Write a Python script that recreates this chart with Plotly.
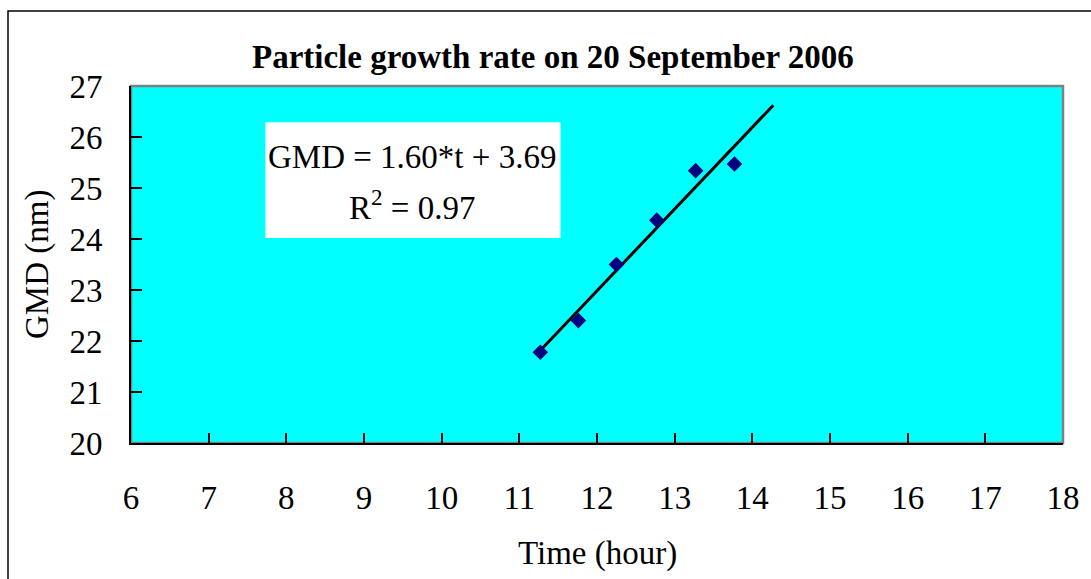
import numpy as np
import plotly.graph_objects as go

# Data
time_hour = [11.27, 11.76, 12.25, 12.77, 13.27, 13.77]
gmd_nm = [21.78, 22.40, 23.50, 24.37, 25.34, 25.47]
trend_end = 14.27
x_ticks = list(range(6, 19))
y_ticks = list(range(20, 28))
title_text = "Particle growth rate on 20 September 2006"
eq_line1 = "GMD = 1.60*t + 3.69"
eq_line2 = "R<sup>2</sup> = 0.97"

slope, intercept = np.polyfit(time_hour, gmd_nm, 1)
trend_x = [time_hour[0], trend_end]
trend_y = [slope * v + intercept for v in trend_x]

W, H = 1091, 579
L, R, T, B = 131, 28, 86, 136
pw, ph = W - L - R, H - T - B

def px(xp):
    return (xp - L) / pw

def py(yp):
    return (H - B - yp) / ph

FONT = "Liberation Serif, Times New Roman, serif"
FS = 33

fig = go.Figure()
fig.add_trace(go.Scatter(x=trend_x, y=trend_y, mode="lines",
                         line=dict(color="black", width=3), showlegend=False))
fig.add_trace(go.Scatter(x=time_hour, y=gmd_nm, mode="markers",
                         marker=dict(symbol="diamond", size=12, color="#000080"),
                         showlegend=False))

fig.update_layout(
    width=W, height=H,
    margin=dict(l=L, r=R, t=T, b=B),
    paper_bgcolor="white",
    plot_bgcolor="#00FFFF",
    font=dict(family=FONT, color="black", size=FS),
    xaxis=dict(range=[6, 18], tickvals=x_ticks, ticks="inside", ticklen=10,
               tickwidth=1.5, tickcolor="black", showgrid=False, zeroline=False,
               showline=True, linecolor="black", linewidth=2, mirror=False,
               ticklabelstandoff=24, tickfont=dict(size=FS, family=FONT)),
    yaxis=dict(range=[20, 27], tickvals=y_ticks, ticks="inside", ticklen=11,
               tickwidth=1.5, tickcolor="black", showgrid=False, zeroline=False,
               showline=True, linecolor="black", linewidth=2, mirror=False,
               ticklabelstandoff=20, tickfont=dict(size=FS, family=FONT)),
    shapes=[
        dict(type="rect", xref="paper", yref="paper", x0=0, x1=1, y0=0, y1=1,
             line=dict(color="#808080", width=2.5), layer="below"),
        dict(type="rect", xref="x", yref="y", x0=7.73, x1=11.53, y0=24.02, y1=26.29,
             fillcolor="white", line=dict(width=0), layer="below"),
        dict(type="rect", xref="paper", yref="paper", x0=px(8), x1=px(1105),
             y0=py(600), y1=py(11), line=dict(color="black", width=1.5)),
    ],
    annotations=[
        dict(text="<b>" + title_text + "</b>", xref="paper", yref="paper",
             x=px(553), y=py(57), xanchor="center", yanchor="middle",
             showarrow=False, font=dict(size=FS, family=FONT)),
        dict(text=eq_line1, xref="paper", yref="paper", x=px(412), y=py(157),
             xanchor="center", yanchor="middle", showarrow=False,
             font=dict(size=FS, family=FONT)),
        dict(text=eq_line2, xref="paper", yref="paper", x=px(412), y=py(205),
             xanchor="center", yanchor="middle", showarrow=False,
             font=dict(size=FS, family=FONT)),
        dict(text="Time (hour)", xref="paper", yref="paper", x=px(597), y=py(553),
             xanchor="center", yanchor="middle", showarrow=False,
             font=dict(size=FS, family=FONT)),
        dict(text="GMD (nm)", xref="paper", yref="paper", x=px(37), y=py(265),
             xanchor="center", yanchor="middle", textangle=-90, showarrow=False,
             font=dict(size=FS, family=FONT)),
    ],
)

fig.write_html("out.html")
